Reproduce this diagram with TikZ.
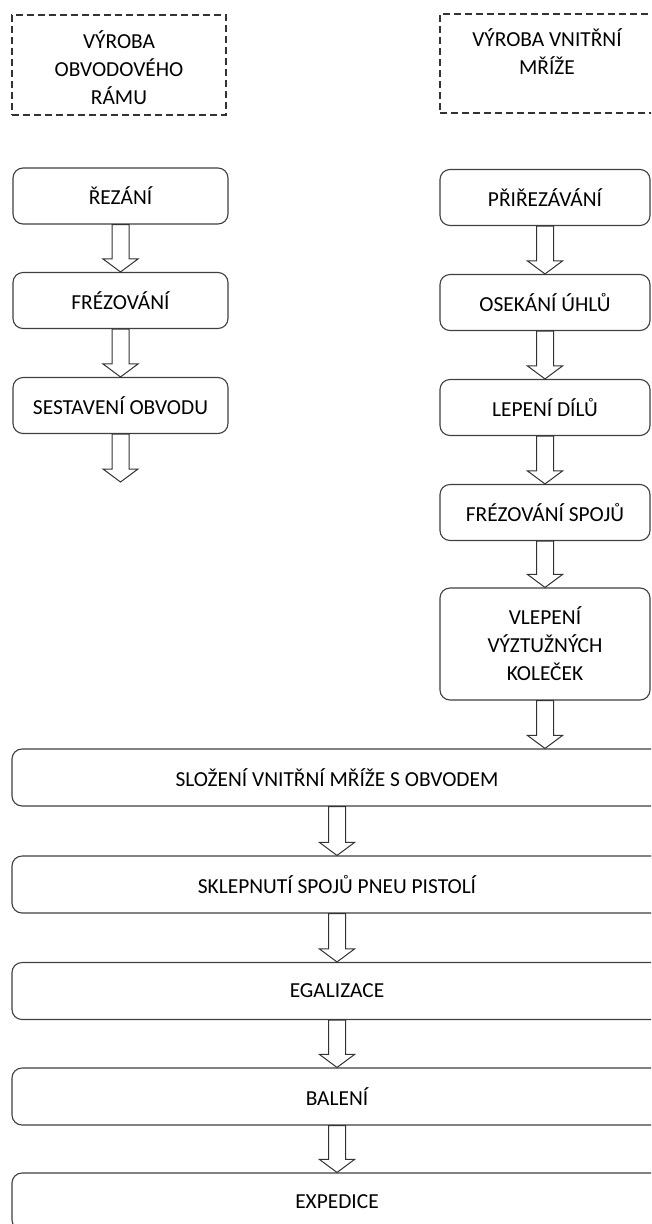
\documentclass[tikz,border=0pt]{standalone}
\usepackage{fontspec}
\setmainfont{Carlito}
\usetikzlibrary{positioning,calc}
\tikzset{box/.style={draw=black!75,line width=1.1pt,rounded corners=10pt,minimum height=56pt,inner sep=0pt,align=center},
lbox/.style={box,minimum width=215pt},
rbox/.style={box,minimum width=210pt},
wbox/.style={box,minimum width=650pt,minimum height=57pt},
hdr/.style={draw=black!80,line width=1.1pt,dash pattern=on 7pt off 4pt,inner sep=0pt},
blk/.style={draw=black!80,line width=1pt,fill=white,line join=miter}}

\begin{document}
\begin{tikzpicture}[x=1pt,y=-1pt,font=\fontsize{21.4}{28}\selectfont]
	\useasboundingbox (0,0) rectangle (651,1224);
	\clip (0,0) rectangle (651,1224);
	\fill[white] (0,0) rectangle (651,1224);
	% hlavicky
	\node[hdr,minimum width=214pt,minimum height=100pt,label={[name=hltext,anchor=north,yshift=-16pt,inner sep=0pt,align=center]north:VÝROBA\\OBVODOVÉHO\\RÁMU}] (hl) at (119,65) {};
	\node[hdr,minimum width=214pt,minimum height=99pt,label={[name=hrtext,anchor=north,yshift=-15pt,inner sep=0pt,align=center]north:VÝROBA VNITŘNÍ\\MŘÍŽE}] (hr) at (547,63.5) {};
	% obvodovy ram
	\node[lbox] (rez) at (120.5,196) {ŘEZÁNÍ};
	\node[lbox] (frez) at (120.5,300.5) {FRÉZOVÁNÍ};
	\node[lbox] (sest) at (120.5,405.5) {SESTAVENÍ OBVODU};
	\coordinate (sestend) at (120.5,482);
	% vnitrni mriz
	\node[rbox] (prirez) at (545,197.5) {PŘIŘEZÁVÁNÍ};
	\node[rbox] (osek) at (545,302.5) {OSEKÁNÍ ÚHLŮ};
	\node[rbox] (lep) at (545,407.5) {LEPENÍ DÍLŮ};
	\node[rbox] (frezsp) at (545,512.5) {FRÉZOVÁNÍ SPOJŮ};
	\node[rbox,minimum height=112pt] (vlep) at (545,644) {VLEPENÍ\\VÝZTUŽNÝCH\\KOLEČEK};
	% kompletace
	\node[wbox] (slo) at (337,777.5) {SLOŽENÍ VNITŘNÍ MŘÍŽE S OBVODEM};
	\node[wbox] (skl) at (337,884.5) {SKLEPNUTÍ SPOJŮ PNEU PISTOLÍ};
	\node[wbox] (egal) at (337,991) {EGALIZACE};
	\node[wbox] (bal) at (337,1096.5) {BALENÍ};
	\node[wbox] (exp) at (337,1201.5) {EXPEDICE};
	% sipky
	\foreach \a/\b in {rez/frez.north,frez/sest.north,sest/sestend,prirez/osek.north,osek/lep.north,lep/frezsp.north,frezsp/vlep.north,vlep/slo.north,slo/skl.north,skl/egal.north,egal/bal.north,bal/exp.north}{
		\draw[blk] ($(\a.south)+(-8.5,0)$) -- ($(\a.south |- \b)+(-8.5,-13)$) -- ++(-9,0) -- (\a.south |- \b) -- ++(17.5,-13) -- ++(-9,0) -- ($(\a.south)+(8.5,0)$) -- cycle;
	}
\end{tikzpicture}
\end{document}
